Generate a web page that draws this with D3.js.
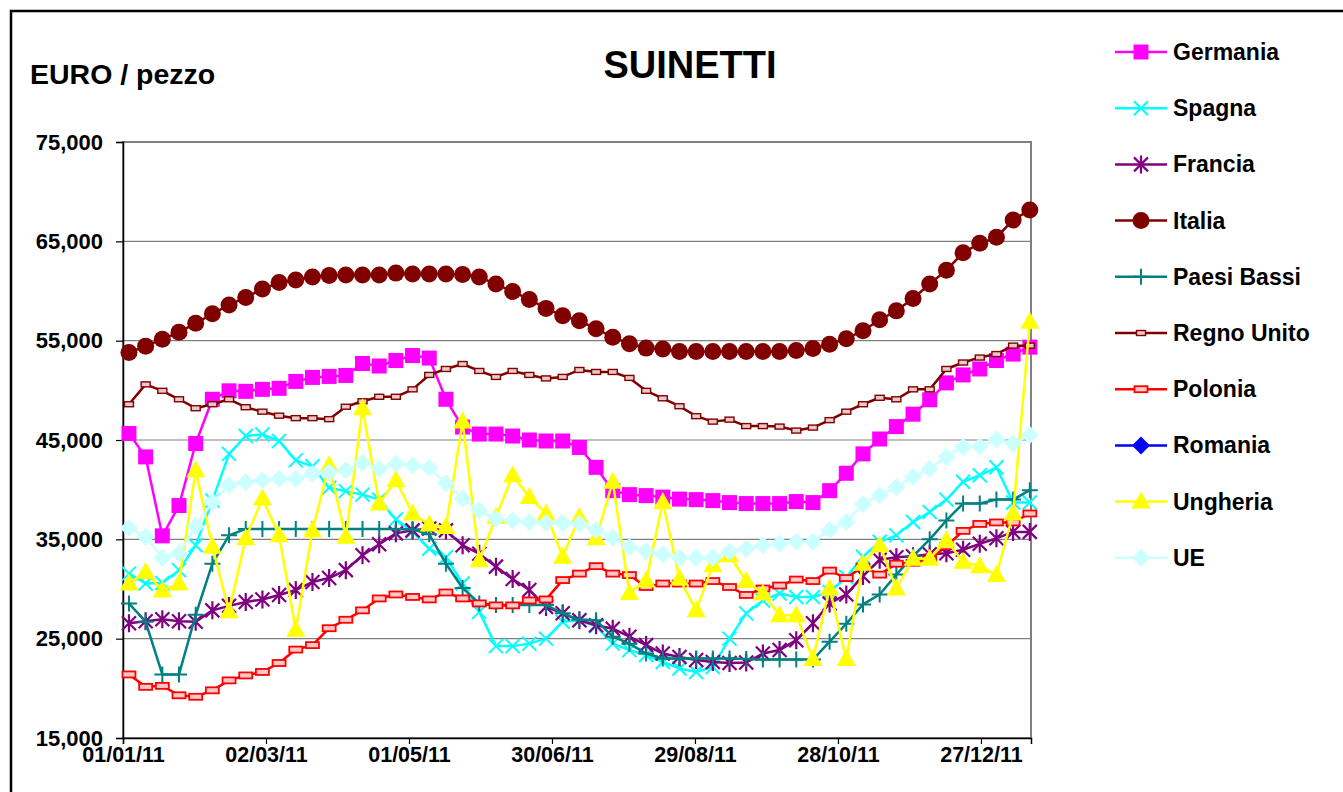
<!DOCTYPE html>
<html><head><meta charset="utf-8">
<script src="https://cdn.jsdelivr.net/npm/d3@7"></script>
<style>
body{margin:0;background:#fff}
svg{display:block}
text{font-family:Arial,"Liberation Sans",sans-serif;font-weight:bold;fill:#000}
</style>
</head><body>
<svg id="c" width="1343" height="792"></svg>
<script>
const dates = ["2011-01-03","2011-01-10","2011-01-17","2011-01-24","2011-01-31","2011-02-07","2011-02-14","2011-02-21","2011-02-28",
"2011-03-07","2011-03-14","2011-03-21","2011-03-28","2011-04-04","2011-04-11","2011-04-18","2011-04-25",
"2011-05-02","2011-05-09","2011-05-16","2011-05-23","2011-05-30","2011-06-06","2011-06-13","2011-06-20","2011-06-27",
"2011-07-04","2011-07-11","2011-07-18","2011-07-25","2011-08-01","2011-08-08","2011-08-15","2011-08-22","2011-08-29",
"2011-09-05","2011-09-12","2011-09-19","2011-09-26","2011-10-03","2011-10-10","2011-10-17","2011-10-24","2011-10-31",
"2011-11-07","2011-11-14","2011-11-21","2011-11-28","2011-12-05","2011-12-12","2011-12-19","2011-12-26",
"2012-01-02","2012-01-09","2012-01-16"];

const germania = [45650,43300,35350,38400,44650,49100,49950,49900,50100,50200,50900,51300,51400,51500,52700,52450,53000,53500,53250,49100,46300,45600,45600,45400,45000,44900,44900,44250,42250,39900,39500,39400,39250,39050,39000,38900,38700,38600,38600,38600,38800,38700,39900,41650,43600,45100,46350,47600,49050,50750,51550,52150,53000,53650,54350];
const spagna = [31550,30550,30600,31900,34400,38900,43600,45400,45550,44900,42950,42350,40200,39850,39500,39000,37000,35800,34050,33200,30550,27700,24250,24250,24500,25000,26700,26850,26250,24500,23850,23350,22650,22000,21650,22150,25000,27550,28850,29550,29200,29200,29700,31200,33250,34750,35400,36750,37750,39000,40800,41450,42250,38700,38700];
const francia = [26550,26750,26950,26750,26700,27850,28300,28700,28950,29400,29900,30700,31100,31900,33400,34500,35600,35900,36100,35900,34400,33550,32250,31000,29900,28200,27550,26850,26350,26000,25200,24350,23500,23150,22850,22650,22550,22600,23500,23850,24850,26550,28550,29450,31300,32950,33200,33300,33500,33600,33950,34550,35100,35750,35750];
const italia = [53800,54450,55150,55850,56750,57700,58600,59350,60200,60850,61100,61400,61550,61600,61600,61600,61800,61700,61700,61700,61650,61400,60700,59950,59150,58250,57500,57000,56200,55350,54700,54250,54150,53900,53900,53900,53900,53900,53900,53900,54000,54200,54650,55200,56000,57100,58000,59250,60700,62100,63850,64800,65400,67150,68150];
const paesiBassi = [28550,26700,21400,21400,27400,32550,35400,36050,36050,36050,36050,36050,36050,36050,36050,36050,36050,36000,35500,32550,30100,28550,28400,28400,28400,28400,27550,26900,26850,25200,24500,23500,23000,23000,23000,23000,23000,22950,22900,22900,22900,22900,24700,26500,28450,29450,31450,33300,35000,36900,38600,38600,39000,39000,39950];
const regnoUnito = [48600,50600,49950,49100,48200,48600,49100,48300,47850,47450,47200,47200,47100,48350,48900,49350,49350,50100,51550,52150,52650,51950,51350,51950,51550,51200,51350,52050,51850,51850,51250,49950,49200,48400,47400,46850,47050,46400,46400,46350,45950,46250,47000,47850,48600,49250,49100,50100,50100,52150,52800,53300,53650,54500,54500];
const polonia = [21400,20150,20250,19300,19150,19800,20800,21300,21650,22550,23900,24350,26050,26900,27850,29050,29450,29200,28950,29650,29050,28550,28350,28350,28850,28950,30900,31550,32300,31550,31400,30200,30550,30550,30550,30800,30200,29400,30050,30350,30950,30800,31850,31100,32250,31450,32550,32650,33000,34300,35850,36550,36700,36700,37600];
const romania = [];
const ungheria = [30550,31700,29850,30550,41950,34250,27750,35100,39100,35400,25900,35900,42450,35250,48200,38600,40950,37600,36500,36250,46850,32900,37250,41450,39250,37600,33250,37250,35100,40800,29600,30850,38750,31050,27850,32400,33400,30800,29550,27350,27350,22950,30050,22950,32550,34400,30050,33050,33050,34900,32750,32300,31400,37600,56900];
const ue = [36150,35250,33150,33600,36300,38750,40450,40750,40950,41100,41100,41600,41750,41950,42700,42100,42600,42450,42200,40650,39100,37900,37050,36900,36750,36650,36650,36550,35950,35150,34200,33800,33500,33150,33150,33150,33750,34050,34400,34550,34750,34750,35950,36750,38550,39450,40250,41300,42100,43300,44300,44350,45050,44650,45500];

const yTicks = [15000,25000,35000,45000,55000,65000,75000];
const xTickDates = ["2011-01-01","2011-03-02","2011-05-01","2011-06-30","2011-08-29","2011-10-28","2011-12-27"];
const xTickLabels = ["01/01/11","02/03/11","01/05/11","30/06/11","29/08/11","28/10/11","27/12/11"];
const xDomain = ["2011-01-01","2012-01-17"];

const seriesNames = ["Germania","Spagna","Francia","Italia","Paesi Bassi","Regno Unito","Polonia","Romania","Ungheria","UE"];
const seriesValues = [germania,spagna,francia,italia,paesiBassi,regnoUnito,polonia,romania,ungheria,ue];
const seriesColors = ["#FF00FF","#00FFFF","#800080","#800000","#008080","#800000","#FF0000","#0000FF","#FFFF00","#CCFFFF"];
const seriesMarkers = ["square","x","star","circle","plus","dash","bar","diamond","triangle","diamond"];

const parse = d3.utcParse("%Y-%m-%d");
const svg = d3.select("#c");
const L=123, R=1031, T=142, B=738;

const x = d3.scaleUtc().domain(xDomain.map(parse)).range([L,R]);
const y = d3.scaleLinear().domain([15000,75000]).range([B,T]);
const HALF = 12*3600*1000;
const px = d => x(new Date(parse(d).getTime()+HALF));

// outer frame
svg.append("rect").attr("x",11).attr("y",11).attr("width",1400).attr("height",900)
  .attr("fill","#fff").attr("stroke","#000").attr("stroke-width",2.5);

// gridlines
svg.append("g").selectAll("line").data(yTicks.slice(1)).join("line")
  .attr("x1",L).attr("x2",R).attr("y1",d=>y(d)).attr("y2",d=>y(d))
  .attr("stroke","#808080").attr("stroke-width",1.2);

// plot border
svg.append("rect").attr("x",L).attr("y",T).attr("width",R-L).attr("height",B-T)
  .attr("fill","none").attr("stroke","#808080").attr("stroke-width",2);

// axes
const yAxis = svg.append("g").attr("transform",`translate(${L},0)`)
  .call(d3.axisLeft(y).tickValues(yTicks).tickFormat(d3.format(",")).tickSize(7).tickPadding(13));
yAxis.select(".domain").attr("stroke","#000").attr("stroke-width",1.5);
yAxis.selectAll(".tick line").attr("stroke","#000").attr("stroke-width",1.2);
yAxis.selectAll("text").attr("font-size",22).attr("font-family","Arial, Liberation Sans, sans-serif").attr("font-weight","bold").attr("fill","#000");

const xAxis = svg.append("g").attr("transform",`translate(0,${B})`)
  .call(d3.axisBottom(x).tickValues(xTickDates.map(parse)).tickFormat((d,i)=>xTickLabels[i]).tickSize(6).tickPadding(3));
xAxis.select(".domain").attr("stroke","#000").attr("stroke-width",1.5);
xAxis.selectAll(".tick line").attr("stroke","#000").attr("stroke-width",1.2);
xAxis.selectAll("text").attr("font-size",21.5).attr("font-family","Arial, Liberation Sans, sans-serif").attr("font-weight","bold").attr("fill","#000");

function marker(g, type, color){
  switch(type){
    case "square": g.append("rect").attr("x",-7.5).attr("y",-7.5).attr("width",15).attr("height",15).attr("fill",color); break;
    case "x": g.append("path").attr("d","M-7,-7L7,7M-7,7L7,-7").attr("stroke",color).attr("stroke-width",2).attr("fill","none"); break;
    case "star": g.append("path").attr("d","M-7,-7L7,7M-7,7L7,-7M0,-9L0,9").attr("stroke",color).attr("stroke-width",2.2).attr("fill","none"); break;
    case "circle": g.append("circle").attr("r",8.5).attr("fill",color); break;
    case "plus": g.append("path").attr("d","M-8,0L8,0M0,-8L0,8").attr("stroke",color).attr("stroke-width",2).attr("fill","none"); break;
    case "dash": g.append("rect").attr("x",-4.5).attr("y",-2.5).attr("width",9).attr("height",5).attr("fill","#e8c8c8").attr("stroke",color).attr("stroke-width",1.4); break;
    case "bar": g.append("rect").attr("x",-6.5).attr("y",-3).attr("width",13).attr("height",6).attr("fill","#ffc8c8").attr("stroke",color).attr("stroke-width",1.8); break;
    case "diamond": g.append("path").attr("d","M0,-9L9,0L0,9L-9,0Z").attr("fill",color); break;
    case "triangle": g.append("path").attr("d","M0,-10L9.5,7L-9.5,7Z").attr("fill",color); break;
  }
}

const line = d3.line().x((d,i)=>px(dates[i])).y(d=>y(d));
const plot = svg.append("g");
seriesNames.forEach((name,si)=>{
  const vals = seriesValues[si];
  if(!vals.length) return;
  const g = plot.append("g");
  g.append("path").datum(vals).attr("d",line).attr("fill","none")
    .attr("stroke",seriesColors[si]).attr("stroke-width",2.5).attr("stroke-linejoin","round");
  vals.forEach((v,i)=>{
    const m = g.append("g").attr("transform",`translate(${px(dates[i])},${y(v)})`);
    marker(m, seriesMarkers[si], seriesColors[si]);
  });
});

// title and axis unit
svg.append("text").attr("x",690).attr("y",78).attr("text-anchor","middle").attr("font-size",38).text("SUINETTI");
svg.append("text").attr("x",30).attr("y",84).attr("font-size",28.5).text("EURO / pezzo");

// legend
const lg = svg.append("g");
seriesNames.forEach((name,si)=>{
  const yy = 52 + si*56.2;
  const g = lg.append("g").attr("transform",`translate(0,${yy})`);
  g.append("line").attr("x1",1115).attr("x2",1167).attr("y1",0).attr("y2",0).attr("stroke",seriesColors[si]).attr("stroke-width",2.5);
  const m = g.append("g").attr("transform","translate(1141,0)");
  marker(m, seriesMarkers[si], seriesColors[si]);
  g.append("text").attr("x",1173).attr("y",8).attr("font-size",23).text(name);
});
</script>
</body></html>
